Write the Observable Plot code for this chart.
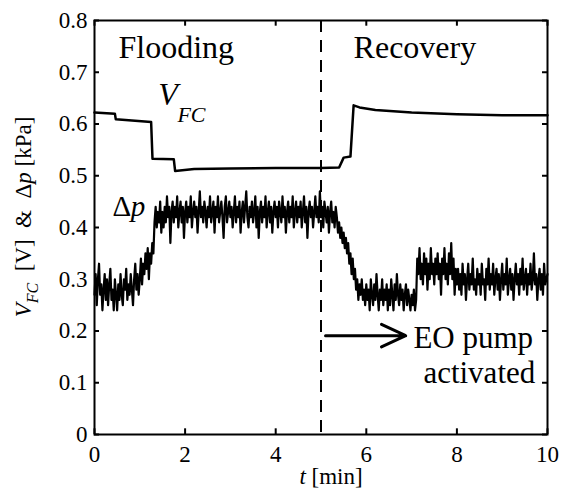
<!DOCTYPE html>
<html><head><meta charset="utf-8">
<script src="https://cdn.jsdelivr.net/npm/d3@7"></script>
<script src="https://cdn.jsdelivr.net/npm/@observablehq/plot@0.6"></script>
<style>body{margin:0;background:#fff}</style>
</head><body><div id="chart"></div>
<script>
const xTicks = [0, 2, 4, 6, 8, 10];
const yTicks = [0, 0.1, 0.2, 0.3, 0.4, 0.5, 0.6, 0.7, 0.8];

// Delta p [kPa], sampled every 0.025 min from t = 0 to 10 (one row = 0.5 min)
const dpStep = 0.025;
const dpValues = [
  0.27,0.31,0.25,0.30,0.33,0.27,0.29,0.24,0.28,0.31,0.26,0.30,0.25,0.29,0.32,0.26,0.28,0.24,0.30,0.27,
  0.24,0.29,0.26,0.31,0.27,0.25,0.30,0.28,0.32,0.26,0.29,0.27,0.31,0.28,0.25,0.30,0.33,0.28,0.31,0.27,
  0.30,0.34,0.29,0.33,0.31,0.35,0.32,0.36,0.30,0.35,0.33,0.37,0.35,0.41,0.44,0.40,0.43,0.41,0.45,0.39,
  0.43,0.40,0.44,0.41,0.46,0.42,0.44,0.37,0.43,0.45,0.41,0.44,0.42,0.46,0.40,0.43,0.45,0.41,0.44,0.38,
  0.43,0.45,0.41,0.44,0.42,0.46,0.40,0.43,0.45,0.42,0.44,0.39,0.43,0.47,0.42,0.44,0.41,0.45,0.43,0.40,
  0.44,0.42,0.46,0.41,0.43,0.45,0.39,0.44,0.42,0.46,0.41,0.43,0.45,0.42,0.38,0.44,0.46,0.41,0.43,0.45,
  0.42,0.44,0.40,0.43,0.46,0.41,0.44,0.42,0.45,0.39,0.43,0.45,0.41,0.44,0.47,0.42,0.40,0.44,0.42,0.45,
  0.41,0.43,0.46,0.40,0.44,0.38,0.43,0.45,0.41,0.44,0.42,0.46,0.40,0.43,0.45,0.41,0.44,0.39,0.43,0.45,
  0.42,0.44,0.40,0.45,0.43,0.41,0.46,0.42,0.44,0.39,0.43,0.45,0.41,0.44,0.42,0.46,0.40,0.43,0.45,0.41,
  0.44,0.42,0.45,0.40,0.43,0.46,0.41,0.44,0.38,0.43,0.45,0.42,0.44,0.40,0.43,0.46,0.42,0.44,0.41,0.47,
  0.42,0.44,0.40,0.45,0.43,0.41,0.44,0.39,0.43,0.45,0.41,0.43,0.40,0.44,0.42,0.39,0.41,0.38,0.40,0.37,
  0.39,0.36,0.38,0.35,0.37,0.33,0.35,0.31,0.34,0.30,0.32,0.28,0.30,0.26,0.29,0.27,0.30,0.26,0.28,0.25,
  0.29,0.26,0.28,0.24,0.30,0.27,0.25,0.29,0.26,0.31,0.27,0.24,0.28,0.26,0.30,0.25,0.28,0.26,0.29,0.24,
  0.28,0.25,0.30,0.27,0.24,0.29,0.26,0.31,0.27,0.25,0.29,0.26,0.28,0.24,0.27,0.29,0.25,0.28,0.26,0.24,
  0.27,0.25,0.28,0.24,0.26,0.34,0.31,0.36,0.30,0.33,0.29,0.35,0.31,0.34,0.28,0.33,0.30,0.36,0.31,0.33,
  0.29,0.34,0.31,0.35,0.30,0.33,0.27,0.34,0.31,0.36,0.30,0.33,0.29,0.35,0.31,0.37,0.30,0.34,0.27,0.32,
  0.29,0.32,0.28,0.31,0.27,0.33,0.29,0.31,0.26,0.30,0.33,0.28,0.31,0.29,0.34,0.28,0.30,0.27,0.32,0.29,
  0.31,0.27,0.33,0.29,0.30,0.26,0.32,0.29,0.34,0.28,0.31,0.29,0.33,0.27,0.30,0.32,0.28,0.31,0.26,0.30,
  0.33,0.28,0.31,0.29,0.34,0.27,0.30,0.32,0.28,0.31,0.26,0.30,0.33,0.29,0.31,0.27,0.32,0.29,0.34,0.28,
  0.30,0.32,0.27,0.31,0.29,0.33,0.28,0.30,0.35,0.29,0.31,0.26,0.30,0.32,0.28,0.31,0.27,0.33,0.29,0.30,
  0.31
];

// V_FC [V]
const vfcTimes  = [0, 0.45, 0.47, 1.25, 1.28, 1.75, 1.78, 2.2, 3.0, 4.0, 5.0, 5.4, 5.5, 5.65, 5.72, 5.85, 6.2, 7.0, 8.0, 9.0, 10];
const vfcValues = [0.622, 0.620, 0.609, 0.604, 0.533, 0.532, 0.509, 0.513, 0.514, 0.515, 0.515, 0.516, 0.535, 0.537, 0.636, 0.632, 0.627, 0.622, 0.619, 0.617, 0.617];

const switchTime = [5];
const phaseLabels = [{t: 0.53, v: 0.727, text: "Flooding"}, {t: 5.72, v: 0.727, text: "Recovery"}];
const pumpLabels = [{t: 7.04, v: 0.168, text: "EO pump"}, {t: 7.26, v: 0.100, text: "activated"}];
const arrowData = [{t1: 5.1, t2: 6.87, v: 0.191}];

const dp = dpValues.map((v, i) => ({t: i * dpStep, v}));
const vfc = vfcTimes.map((t, i) => ({t, v: vfcValues[i]}));

const serif = "'Liberation Serif', 'Times New Roman', serif";

const plot = Plot.plot({
  width: 562, height: 490,
  marginLeft: 94, marginRight: 15, marginTop: 20, marginBottom: 56,
  style: {fontFamily: serif, fontSize: "23px", color: "black", background: "white"},
  x: {domain: [0, 10]},
  y: {domain: [0, 0.8]},
  marks: [
    Plot.axisX({ticks: xTicks, tickSize: 0, tickPadding: 11, label: null, tickFormat: d => String(d)}),
    Plot.axisY({ticks: yTicks, tickSize: 0, tickPadding: 7, label: null, tickFormat: d => d === 0 ? "0" : d.toFixed(1)}),
    Plot.ruleY(yTicks, {x1: 0, x2: 0.11, stroke: "black", strokeWidth: 2}),
    Plot.ruleY(yTicks, {x1: 9.89, x2: 10, stroke: "black", strokeWidth: 2}),
    Plot.ruleX(xTicks, {y1: 0, y2: 0.011, stroke: "black", strokeWidth: 2}),
    Plot.ruleX(xTicks, {y1: 0.789, y2: 0.8, stroke: "black", strokeWidth: 2}),
    Plot.ruleX(switchTime, {stroke: "black", strokeWidth: 2, strokeDasharray: "12,8"}),
    Plot.line(dp, {x: "t", y: "v", stroke: "black", strokeWidth: 2.2}),
    Plot.line(vfc, {x: "t", y: "v", stroke: "black", strokeWidth: 2.5}),
    Plot.text(phaseLabels, {x: "t", y: "v", text: "text", textAnchor: "start", lineAnchor: "bottom", fontSize: 32, fill: "black"}),
    Plot.text(pumpLabels, {x: "t", y: "v", text: "text", textAnchor: "start", lineAnchor: "bottom", fontSize: 31, fill: "black"}),
    Plot.text([{t: 1.41, v: 0.636}], {x: "t", y: "v", text: () => "V", textAnchor: "start", lineAnchor: "bottom", fontSize: 32, fontStyle: "italic", fill: "black"}),
    Plot.text([{t: 1.83, v: 0.603}], {x: "t", y: "v", text: () => "FC", textAnchor: "start", lineAnchor: "bottom", fontSize: 22, fontStyle: "italic", fill: "black"}),
    Plot.text([{t: 0.40, v: 0.423}], {x: "t", y: "v", text: () => "Δ", textAnchor: "start", lineAnchor: "bottom", fontSize: 29, fill: "black"}),
    Plot.text([{t: 0.80, v: 0.423}], {x: "t", y: "v", text: () => "p", textAnchor: "start", lineAnchor: "bottom", fontSize: 29, fontStyle: "italic", fill: "black"}),
    Plot.arrow(arrowData, {x1: "t1", x2: "t2", y1: "v", y2: "v", stroke: "black", strokeWidth: 3, headLength: 22, headAngle: 50}),
    Plot.frame({stroke: "black", strokeWidth: 2})
  ]
});

const svg = d3.select(plot);
// y-axis label
const yl = svg.append("text")
  .attr("transform", "translate(31,217) rotate(-90)")
  .attr("text-anchor", "middle")
  .attr("font-family", serif).attr("font-size", 23).attr("fill", "black")
  .style("white-space", "pre");
yl.append("tspan").attr("font-style", "italic").text("V");
yl.append("tspan").attr("font-style", "italic").attr("font-size", 16).attr("dy", 7).text("FC");
yl.append("tspan").attr("dy", -7).text("  [V]  &  Δ");
yl.append("tspan").attr("font-style", "italic").text("p");
yl.append("tspan").text(" [kPa]");
// x-axis label
const xl = svg.append("text")
  .attr("x", 331).attr("y", 484)
  .attr("text-anchor", "middle")
  .attr("font-family", serif).attr("font-size", 23).attr("fill", "black")
  .style("white-space", "pre");
xl.append("tspan").attr("font-style", "italic").text("t");
xl.append("tspan").text(" [min]");

document.getElementById("chart").appendChild(plot);
</script>
</body></html>
